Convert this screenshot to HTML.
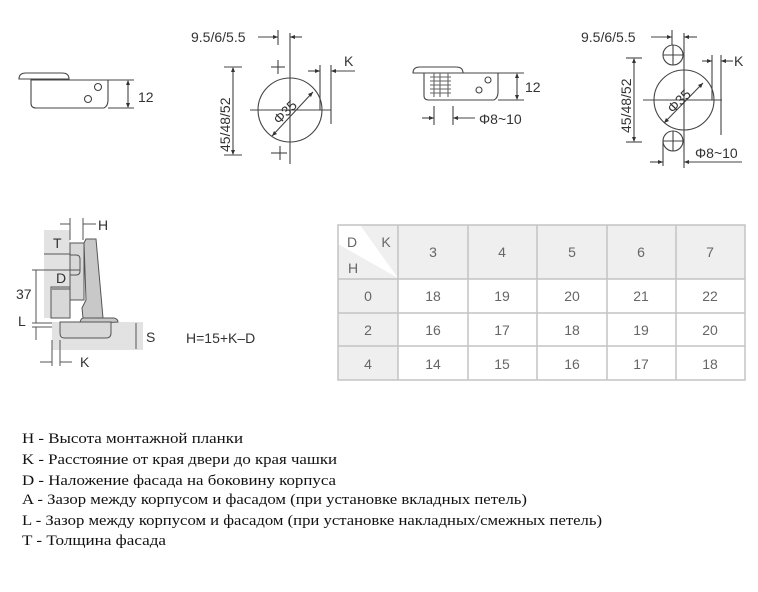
<!DOCTYPE html>
<html><head><meta charset="utf-8"><style>
html,body{margin:0;padding:0;background:#fff;}
svg{display:block}
text{font-family:"Liberation Sans",sans-serif;fill:#333}
.s{font-family:"Liberation Serif","DejaVu Serif",serif;font-size:15px;fill:#111}
</style></head><body>
<svg width="758" height="592" viewBox="0 0 758 592" xmlns="http://www.w3.org/2000/svg">
<g stroke="#444" stroke-width="1.1" fill="none">
<!-- Drawing 1 -->
<path d="M19,79 Q19,73 26,73 L62,73 Q69,73 69,79 Z"/>
<path d="M31,79 L31,103 Q31,108 36,108 L104,108 Q108,106 108,100 L108,80 L31,80"/>
<circle cx="98" cy="87" r="3.5"/><circle cx="88" cy="99" r="3.5"/>
<line x1="108" y1="80" x2="134" y2="80"/><line x1="108" y1="108" x2="134" y2="108"/>
<line x1="128" y1="81" x2="128" y2="107"/>
<!-- Drawing 2 -->
<circle cx="290" cy="110" r="32"/>
<line x1="290" y1="33" x2="290" y2="164"/>
<line x1="250" y1="110" x2="331" y2="110"/>
<line x1="271" y1="67" x2="285" y2="67"/><line x1="278" y1="60" x2="278" y2="74"/>
<line x1="271" y1="153" x2="287" y2="153"/><line x1="280" y1="146" x2="280" y2="160"/>
<line x1="258" y1="37" x2="278" y2="37"/><line x1="278" y1="30" x2="278" y2="45"/>
<line x1="290" y1="37" x2="302" y2="37"/>
<line x1="224" y1="67" x2="242" y2="67"/><line x1="224" y1="155" x2="242" y2="155"/>
<line x1="233" y1="68" x2="233" y2="154"/>
<line x1="320" y1="65" x2="320" y2="110"/><line x1="331" y1="65" x2="331" y2="124"/>
<line x1="308" y1="71" x2="320" y2="71"/><line x1="331" y1="71" x2="355" y2="71"/>
<line x1="272" y1="136" x2="313" y2="92"/>
<!-- Drawing 3 -->
<path d="M413,73 Q413,67 420,67 L456,67 Q463,67 463,73 Z"/>
<path d="M424,73 L424,96 Q424,100 429,100 L494,100 Q498,98 498,92 L498,73"/>
<line x1="463" y1="73" x2="524" y2="73"/><line x1="498" y1="100" x2="524" y2="100"/>
<line x1="517" y1="74" x2="517" y2="99"/>
<circle cx="488" cy="80" r="3"/><circle cx="479" cy="90" r="3"/>
<g stroke="#666"><line x1="430" y1="77" x2="451" y2="77"/><line x1="430" y1="81" x2="451" y2="81"/><line x1="430" y1="85" x2="451" y2="85"/><line x1="430" y1="89" x2="451" y2="89"/><line x1="430" y1="93" x2="451" y2="93"/>
<line x1="434" y1="73" x2="434" y2="97"/><line x1="440" y1="73" x2="440" y2="97"/><line x1="448" y1="73" x2="448" y2="97"/></g>
<line x1="434" y1="106" x2="434" y2="125"/><line x1="453" y1="106" x2="453" y2="125"/>
<line x1="422" y1="118" x2="434" y2="118"/><line x1="453" y1="118" x2="475" y2="118"/>
<!-- Drawing 4 -->
<circle cx="684" cy="100" r="30"/>
<circle cx="673" cy="55" r="10"/><circle cx="673" cy="141" r="10"/>
<line x1="663" y1="55" x2="683" y2="55"/><line x1="673" y1="45" x2="673" y2="65"/>
<line x1="663" y1="141" x2="683" y2="141"/><line x1="673" y1="131" x2="673" y2="151"/>
<line x1="684" y1="33" x2="684" y2="168"/>
<line x1="643" y1="100" x2="722" y2="100"/>
<line x1="651" y1="37" x2="672" y2="37"/><line x1="672" y1="30" x2="672" y2="45"/><line x1="684" y1="37" x2="697" y2="37"/>
<line x1="626" y1="58" x2="642" y2="58"/><line x1="626" y1="142" x2="642" y2="142"/><line x1="634" y1="59" x2="634" y2="141"/>
<line x1="712" y1="55" x2="712" y2="100"/><line x1="721" y1="55" x2="721" y2="135"/>
<line x1="702" y1="61" x2="712" y2="61"/><line x1="721" y1="61" x2="733" y2="61"/>
<line x1="663" y1="141" x2="663" y2="166"/>
<line x1="650" y1="162" x2="663" y2="162"/><line x1="684" y1="162" x2="742" y2="162"/>
<line x1="664" y1="123" x2="703" y2="83"/>
</g>
<g fill="#333" stroke="none">
<path d="M128,80 l-2,5 h4z M128,108 l-2,-5 h4z M233,67 l-2,5 h4z M233,155 l-2,-5 h4z M278,37 l-5,-2 v4z M290,37 l5,-2 v4z M320,71 l-5,-2 v4z M331,71 l5,-2 v4z M272,136 l2,-5 l3,3z M313,92 l-2,5 l-3,-3z
M517,73 l-2,5 h4z M517,100 l-2,-5 h4z M434,118 l-5,-2 v4z M453,118 l5,-2 v4z
M672,37 l-5,-2 v4z M684,37 l5,-2 v4z M634,58 l-2,5 h4z M634,142 l-2,-5 h4z M712,61 l-5,-2 v4z M721,61 l5,-2 v4z M663,162 l-5,-2 v4z M684,162 l5,-2 v4z M664,123 l2,-5 l3,3z M703,83 l-2,5 l-3,-3z"/>
</g>
<g font-size="14">
<text x="138" y="102">12</text>
<text x="191" y="42">9.5/6/5.5</text>
<text x="344" y="66">K</text>
<text x="0" y="0" transform="translate(230,152) rotate(-90)">45/48/52</text>
<text x="0" y="0" transform="translate(279,125) rotate(-45)">Φ35</text>
<text x="525" y="92">12</text>
<text x="479" y="124">Φ8~10</text>
<text x="581" y="42">9.5/6/5.5</text>
<text x="734" y="66">K</text>
<text x="0" y="0" transform="translate(631,133) rotate(-90)">45/48/52</text>
<text x="0" y="0" transform="translate(673,114) rotate(-45)">Φ35</text>
<text x="695" y="158">Φ8~10</text>
</g>
<!-- Drawing 5 -->
<rect x="44" y="230" width="26" height="88" fill="#e2e2e2"/>
<rect x="52" y="322" width="91" height="28" fill="#e2e2e2"/>
<g stroke="#555" stroke-width="1">
<rect x="51" y="287" width="19" height="31" fill="#d8d8d8"/>
<rect x="70" y="243" width="14" height="57" fill="#d8d8d8"/>
<path d="M70,255 h6 q4,0 4,4 v12 q0,4 -4,4 h-6" fill="none"/>
<path d="M84,243 L86,239 L96,239 L103,318 L83,318 L82,308 L86,300 Z" fill="#c8c8c8"/>
<path d="M83,318 L114,318 Q118,319 118,322 L80,324 Q80,319 83,318Z" fill="#c8c8c8"/>
<path d="M60,322 L111,322 L111,333 Q111,338 106,338 L64,338 Q60,338 60,333 Z" fill="#d8d8d8"/>
<line x1="70" y1="218" x2="70" y2="240"/><line x1="83" y1="218" x2="83" y2="240"/>
<line x1="60" y1="224" x2="70" y2="224"/><line x1="83" y1="224" x2="96" y2="224"/>
<line x1="44" y1="254" x2="70" y2="254"/>
<line x1="32" y1="270" x2="80" y2="270"/>
<line x1="36" y1="270" x2="36" y2="323"/>
<line x1="52" y1="289" x2="70" y2="289"/>
<line x1="32" y1="323" x2="52" y2="323"/><line x1="32" y1="327" x2="52" y2="327"/>
<line x1="36" y1="327" x2="36" y2="340"/>
<line x1="52" y1="340" x2="52" y2="366"/><line x1="60" y1="340" x2="60" y2="366"/>
<line x1="40" y1="362" x2="52" y2="362"/><line x1="60" y1="362" x2="72" y2="362"/>
<line x1="136" y1="323" x2="136" y2="349"/>
</g>
<g font-size="14">
<text x="98" y="230">H</text>
<text x="53" y="248">T</text>
<text x="56" y="283">D</text>
<text x="16" y="299">37</text>
<text x="18" y="326">L</text>
<text x="146" y="342">S</text>
<text x="80" y="367">K</text>
<text x="186" y="343">H=15+K–D</text>
</g>
<!-- Table -->
<rect x="338" y="225" width="407" height="54" fill="#efefef"/>
<rect x="338" y="279" width="60" height="101" fill="#efefef"/>
<polygon points="338,225 360,225 398,278 338,244" fill="#fff"/>
<g stroke="#c4c4c4" stroke-width="1.5" fill="none">
<rect x="338" y="225" width="407" height="155"/>
<line x1="338" y1="279" x2="745" y2="279"/><line x1="338" y1="313" x2="745" y2="313"/><line x1="338" y1="346" x2="745" y2="346"/>
<line x1="398" y1="225" x2="398" y2="380"/><line x1="468" y1="225" x2="468" y2="380"/><line x1="537" y1="225" x2="537" y2="380"/><line x1="607" y1="225" x2="607" y2="380"/><line x1="676" y1="225" x2="676" y2="380"/>
</g>
<g font-size="14" text-anchor="middle" style="fill:#666">
<text x="352" y="247" style="fill:#666">D</text><text x="386" y="247" style="fill:#666">K</text><text x="353" y="273" style="fill:#666">H</text>
<text x="433" y="257" style="fill:#666">3</text><text x="502" y="257" style="fill:#666">4</text><text x="572" y="257" style="fill:#666">5</text><text x="641" y="257" style="fill:#666">6</text><text x="710" y="257" style="fill:#666">7</text>
<text x="368" y="301" style="fill:#666">0</text><text x="433" y="301" style="fill:#666">18</text><text x="502" y="301" style="fill:#666">19</text><text x="572" y="301" style="fill:#666">20</text><text x="641" y="301" style="fill:#666">21</text><text x="710" y="301" style="fill:#666">22</text>
<text x="368" y="335" style="fill:#666">2</text><text x="433" y="335" style="fill:#666">16</text><text x="502" y="335" style="fill:#666">17</text><text x="572" y="335" style="fill:#666">18</text><text x="641" y="335" style="fill:#666">19</text><text x="710" y="335" style="fill:#666">20</text>
<text x="368" y="369" style="fill:#666">4</text><text x="433" y="369" style="fill:#666">14</text><text x="502" y="369" style="fill:#666">15</text><text x="572" y="369" style="fill:#666">16</text><text x="641" y="369" style="fill:#666">17</text><text x="710" y="369" style="fill:#666">18</text>
</g>
<!-- Legend -->
<text class="s" x="22" y="443" textLength="221" lengthAdjust="spacingAndGlyphs">H  - Высота монтажной планки</text>
<text class="s" x="22" y="464" textLength="315" lengthAdjust="spacingAndGlyphs">K  - Расстояние от края двери до края чашки</text>
<text class="s" x="22" y="485" textLength="314" lengthAdjust="spacingAndGlyphs">D  - Наложение фасада на боковину корпуса</text>
<text class="s" x="22" y="504" textLength="505" lengthAdjust="spacingAndGlyphs">A  - Зазор между корпусом и фасадом (при установке вкладных петель)</text>
<text class="s" x="22" y="525" textLength="580" lengthAdjust="spacingAndGlyphs">L  - Зазор между корпусом и фасадом (при установке накладных/смежных петель)</text>
<text class="s" x="22" y="545" textLength="144" lengthAdjust="spacingAndGlyphs">T  - Толщина фасада</text>
</svg>
</body></html>
